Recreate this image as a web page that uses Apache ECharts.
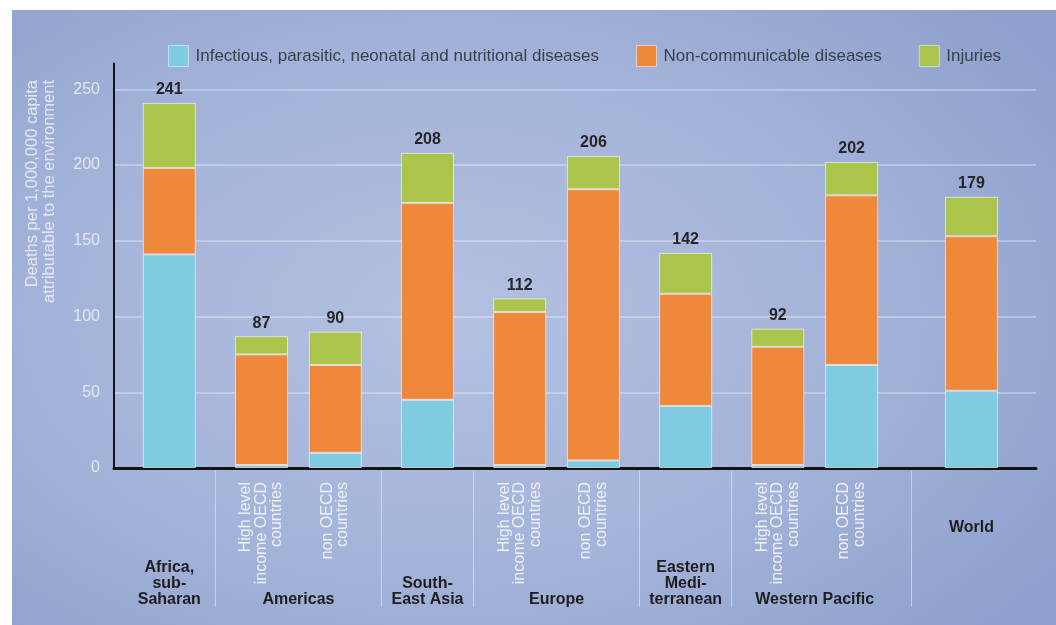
<!DOCTYPE html>
<html><head><meta charset="utf-8">
<script src="https://cdn.jsdelivr.net/npm/echarts@6/dist/echarts.min.js"></script>
<style>
html,body{margin:0;padding:0;background:#ffffff;}
#wrap{position:relative;width:1056px;height:625px;overflow:hidden;}
#panel{position:absolute;left:12px;top:10px;right:0;bottom:0;
background:radial-gradient(ellipse 70% 75% at 42% 50%, #b3c0e0 0%, #a4b3d9 55%, #8da0cd 100%);}
#c{position:absolute;left:0;top:0;width:1056px;height:625px;}
</style>
</head><body>
<div id="wrap"><div id="panel"></div><div id="c"></div></div>
<script>
// ---- data ----
const seriesNames = ['Infectious, parasitic, neonatal and nutritional diseases', 'Non-communicable diseases', 'Injuries'];
const groupLabels = ['Africa,\nsub-\nSaharan', 'Americas', 'South-\nEast Asia', 'Europe', 'Eastern\nMedi-\nterranean', 'Western Pacific', 'World'];
const barGroup = [0, 1, 1, 2, 3, 3, 4, 5, 5, 6];
const subLabels = ['', 'High level\nincome OECD\ncountries', 'non OECD\ncountries', '', 'High level\nincome OECD\ncountries', 'non OECD\ncountries', '', 'High level\nincome OECD\ncountries', 'non OECD\ncountries', ''];
const infectious = [141, 2, 10, 45, 2, 5, 41, 2, 68, 51];
const nonCommunicable = [57, 73, 58, 130, 101, 179, 74, 78, 112, 102];
const injuries = [43, 12, 22, 33, 9, 22, 27, 12, 22, 26];
const totals = [241, 87, 90, 208, 112, 206, 142, 92, 202, 179];
const yName = 'Deaths per 1,000,000 capita\nattributable to the environment';

// ---- layout (not data) ----
const LEAD_SLOTS = 6;
const GAP_SLOTS = [10, 8, 10, 10, 8, 10, 10, 8, 13];
const TOTAL_SLOTS = 101;
const FONT = "'Liberation Sans', Arial, sans-serif";
const colors = ['#7ecbe2', '#f0883c', '#abc44c'];

const slotOfBar = [];
let s = LEAD_SLOTS;
for (let i = 0; i < totals.length; i++) { slotOfBar.push(s); if (i < GAP_SLOTS.length) s += GAP_SLOTS[i]; }
const barOfSlot = {};
slotOfBar.forEach((sl, i) => barOfSlot[sl] = i);
const axisData = [];
for (let i = 0; i < TOTAL_SLOTS; i++) axisData.push(i in barOfSlot ? 'bar' + barOfSlot[i] : 'gap' + i);
function toSlots(arr) {
  const out = new Array(TOTAL_SLOTS).fill(null);
  arr.forEach((v, i) => out[slotOfBar[i]] = v);
  return out;
}
const seriesData = [infectious, nonCommunicable, injuries];

const chart = echarts.init(document.getElementById('c'), null, {renderer: 'canvas'});
const option = {
  animation: false,
  backgroundColor: 'transparent',
  textStyle: {fontFamily: FONT},
  legend: {
    data: seriesNames, top: 45, left: 168, padding: 0, itemWidth: 20, itemHeight: 21, itemGap: 37,
    icon: 'rect',
    itemStyle: {borderColor: 'rgba(255,255,255,0.5)', borderWidth: 1},
    textStyle: {fontSize: 17, color: '#3a3f4c', fontFamily: FONT, padding: [0, 0, 0, 2]}
  },
  grid: {left: 114, right: 20, top: 63.5, bottom: 157},
  xAxis: {
    type: 'category', data: axisData, boundaryGap: false,
    axisLine: {show: true, lineStyle: {color: '#141414', width: 3}},
    axisTick: {show: false}, axisLabel: {show: false}, splitLine: {show: false}
  },
  yAxis: {
    type: 'value', min: 0, max: 267, interval: 50,
    axisLine: {show: true, lineStyle: {color: '#141414', width: 2}},
    axisTick: {show: false},
    axisLabel: {color: '#e2e8f4', fontSize: 16, margin: 14, showMaxLabel: false, fontFamily: FONT},
    splitLine: {show: true, showMaxLine: false, lineStyle: {color: 'rgba(255,255,255,0.4)', width: 1.5}}
  },
  series: seriesNames.map((name, k) => ({
    name, type: 'bar', stack: 'all', barWidth: 53,
    data: toSlots(seriesData[k]),
    itemStyle: {color: colors[k], borderColor: 'rgba(255,255,255,0.6)', borderWidth: 1},
    label: k === 2 ? {
      show: true, position: 'top', distance: 5,
      formatter: p => String(totals[barOfSlot[p.dataIndex]]),
      fontSize: 16, fontWeight: 'bold', color: '#262626', fontFamily: FONT
    } : {show: false}
  }))
};
chart.setOption(option);

// ---- custom category labels ----
const px = totals.map((_, i) => chart.convertToPixel({xAxisIndex: 0}, slotOfBar[i]));
const graphics = [];
// y-axis name
graphics.push({type: 'text', x: 41, y: 80, rotation: Math.PI / 2,
  style: {text: yName, font: '16.5px ' + FONT, fill: '#e2e8f4', align: 'right', verticalAlign: 'middle', lineHeight: 17}});
// sub labels
subLabels.forEach((t, i) => {
  if (!t) return;
  graphics.push({type: 'text', x: px[i], y: 482, rotation: Math.PI / 2,
    style: {text: t, font: '16px ' + FONT, fill: '#eef1f8', align: 'right', verticalAlign: 'middle', lineHeight: 15.5}});
});
// group labels
groupLabels.forEach((t, g) => {
  const xs = px.filter((_, i) => barGroup[i] === g);
  const cx = xs.reduce((a, b) => a + b, 0) / xs.length;
  const isWorld = g === groupLabels.length - 1;
  graphics.push({type: 'text', x: cx, y: isWorld ? 528 : 608,
    style: {text: t, font: 'bold 16px ' + FONT, fill: '#1e1e1e', align: 'center',
      verticalAlign: isWorld ? 'middle' : 'bottom', lineHeight: 16}});
});
// dividers
for (let i = 0; i < totals.length - 1; i++) {
  if (barGroup[i] !== barGroup[i + 1]) {
    const x = (px[i] + px[i + 1]) / 2;
    graphics.push({type: 'line', shape: {x1: x, y1: 471, x2: x, y2: 607},
      style: {stroke: 'rgba(255,255,255,0.45)', lineWidth: 1}});
  }
}
chart.setOption({graphic: graphics});
</script>
</body></html>
